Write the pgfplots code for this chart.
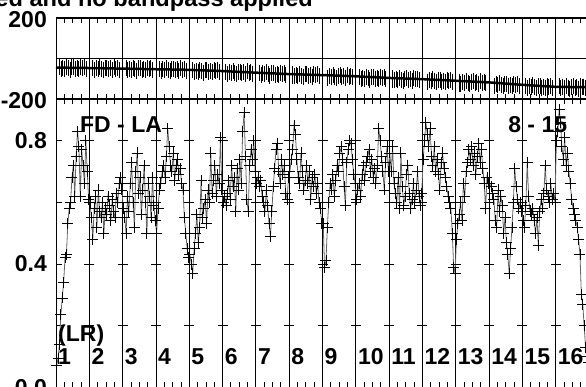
\documentclass[border=0pt]{standalone}
\usepackage{pgfplots}
\pgfplotsset{compat=1.18}
\usepackage{pgfplotstable}
\usepackage{fontspec}
\setmainfont{Liberation Sans}

\pgfplotstableread[row sep=\\]{
y\\
-43\\-53\\-45\\-50\\-40\\-49\\-55\\-44\\-42\\-51\\-46\\-54\\-41\\-48\\-44\\-52\\
-46\\-56\\-48\\-53\\-43\\-52\\-58\\-47\\-45\\-54\\-49\\-57\\-44\\-51\\-47\\-55\\
-48\\-58\\-50\\-55\\-45\\-54\\-60\\-49\\-47\\-56\\-51\\-59\\-46\\-53\\-49\\-57\\
-51\\-61\\-53\\-58\\-48\\-57\\-63\\-52\\-50\\-59\\-54\\-62\\-49\\-56\\-52\\-60\\
-58\\-68\\-60\\-65\\-55\\-64\\-70\\-59\\-57\\-66\\-61\\-69\\-56\\-63\\-59\\-67\\
-66\\-76\\-68\\-73\\-63\\-72\\-78\\-67\\-65\\-74\\-69\\-77\\-64\\-71\\-67\\-75\\
-72\\-82\\-74\\-79\\-69\\-78\\-84\\-73\\-71\\-80\\-75\\-83\\-70\\-77\\-73\\-81\\
-78\\-88\\-80\\-85\\-75\\-84\\-90\\-79\\-77\\-86\\-81\\-89\\-76\\-83\\-79\\-87\\
-84\\-94\\-86\\-91\\-81\\-90\\-96\\-85\\-83\\-92\\-87\\-95\\-82\\-89\\-85\\-93\\
-92\\-102\\-94\\-99\\-89\\-98\\-104\\-93\\-91\\-100\\-95\\-103\\-90\\-97\\-93\\-101\\
-98\\-108\\-100\\-105\\-95\\-104\\-110\\-99\\-97\\-106\\-101\\-109\\-96\\-103\\-99\\-107\\
-106\\-116\\-108\\-113\\-103\\-112\\-118\\-107\\-105\\-114\\-109\\-117\\-104\\-111\\-107\\-115\\
-114\\-124\\-116\\-121\\-111\\-120\\-126\\-115\\-113\\-122\\-117\\-125\\-112\\-119\\-115\\-123\\
-126\\-136\\-128\\-133\\-123\\-132\\-138\\-127\\-125\\-134\\-129\\-137\\-124\\-131\\-127\\-135\\
-136\\-146\\-138\\-143\\-133\\-142\\-148\\-137\\-135\\-144\\-139\\-147\\-134\\-141\\-137\\-145\\
-138\\-148\\-140\\-145\\-135\\-144\\-150\\-139\\-137\\-146\\-141\\-149\\-136\\-143\\-139\\-147\\
}\topdata

\pgfplotstableread[row sep=\\]{
y\\
0.07\\0.095\\0.14\\0.235\\0.29\\0.34\\0.42\\0.43\\0.53\\0.58\\0.60\\0.68\\0.72\\0.62\\0.75\\0.83\\0.78\\0.62\\0.77\\0.72\\0.66\\0.80\\0.70\\0.61\\
0.60\\0.55\\0.48\\0.58\\0.62\\0.52\\0.64\\0.57\\0.55\\0.60\\0.50\\0.58\\0.56\\0.62\\0.59\\0.54\\0.61\\0.57\\0.55\\0.63\\0.60\\0.66\\0.68\\0.64\\
0.58\\0.55\\0.50\\0.62\\0.57\\0.66\\0.73\\0.60\\0.52\\0.70\\0.76\\0.63\\0.68\\0.56\\0.64\\0.72\\0.60\\0.50\\0.66\\0.62\\0.55\\0.68\\0.59\\0.54\\
0.50\\0.58\\0.64\\0.66\\0.70\\0.72\\0.68\\0.75\\0.84\\0.78\\0.72\\0.70\\0.76\\0.67\\0.72\\0.74\\0.69\\0.71\\0.66\\0.64\\0.55\\0.50\\0.45\\0.42\\
0.43\\0.40\\0.37\\0.45\\0.50\\0.56\\0.47\\0.52\\0.67\\0.55\\0.58\\0.61\\0.53\\0.64\\0.60\\0.76\\0.63\\0.67\\0.72\\0.62\\0.69\\0.66\\0.81\\0.64\\
0.60\\0.62\\0.59\\0.63\\0.67\\0.61\\0.72\\0.65\\0.68\\0.57\\0.71\\0.64\\0.74\\0.66\\0.83\\0.89\\0.75\\0.61\\0.57\\0.72\\0.77\\0.74\\0.80\\0.70\\
0.66\\0.68\\0.65\\0.67\\0.62\\0.60\\0.57\\0.64\\0.59\\0.53\\0.49\\0.57\\0.65\\0.71\\0.77\\0.79\\0.70\\0.66\\0.74\\0.69\\0.72\\0.63\\0.61\\0.68\\
0.70\\0.74\\0.77\\0.85\\0.82\\0.74\\0.68\\0.66\\0.76\\0.70\\0.64\\0.67\\0.72\\0.66\\0.70\\0.61\\0.68\\0.65\\0.69\\0.63\\0.66\\0.60\\0.58\\0.53\\
0.53\\0.39\\0.41\\0.52\\0.60\\0.66\\0.64\\0.69\\0.62\\0.67\\0.72\\0.70\\0.76\\0.78\\0.74\\0.65\\0.59\\0.73\\0.77\\0.80\\0.79\\0.74\\0.69\\0.66\\
0.61\\0.64\\0.66\\0.62\\0.69\\0.72\\0.67\\0.73\\0.75\\0.77\\0.70\\0.74\\0.68\\0.71\\0.66\\0.72\\0.84\\0.80\\0.75\\0.70\\0.64\\0.73\\0.78\\0.70\\
0.76\\0.70\\0.78\\0.66\\0.63\\0.60\\0.68\\0.58\\0.76\\0.65\\0.59\\0.62\\0.69\\0.72\\0.63\\0.58\\0.61\\0.66\\0.60\\0.64\\0.70\\0.62\\0.59\\0.63\\
0.74\\0.80\\0.86\\0.82\\0.78\\0.84\\0.75\\0.72\\0.78\\0.70\\0.74\\0.69\\0.64\\0.73\\0.76\\0.71\\0.68\\0.65\\0.62\\0.60\\0.58\\0.50\\0.39\\0.37\\
0.48\\0.53\\0.56\\0.60\\0.54\\0.66\\0.62\\0.70\\0.73\\0.77\\0.74\\0.78\\0.72\\0.76\\0.69\\0.75\\0.79\\0.73\\0.77\\0.71\\0.66\\0.58\\0.68\\0.66\\
0.66\\0.65\\0.63\\0.61\\0.54\\0.52\\0.64\\0.57\\0.62\\0.59\\0.50\\0.55\\0.47\\0.43\\0.37\\0.45\\0.52\\0.60\\0.71\\0.65\\0.61\\0.58\\0.60\\0.57\\
0.54\\0.52\\0.59\\0.73\\0.62\\0.57\\0.56\\0.58\\0.54\\0.50\\0.55\\0.46\\0.57\\0.61\\0.58\\0.63\\0.72\\0.64\\0.62\\0.60\\0.66\\0.61\\0.63\\0.60\\
0.80\\0.83\\0.90\\0.86\\0.78\\0.74\\0.81\\0.72\\0.76\\0.70\\0.66\\0.61\\0.58\\0.56\\0.54\\0.52\\0.48\\0.43\\0.30\\0.27\\0.20\\0.13\\0.10\\0.08\\
}\botdata

\begin{document}
\begin{tikzpicture}[font=\fontsize{23bp}{26bp}\selectfont\bfseries]
\pgfplotsset{
  panel/.style={
    scale only axis, width=533bp,
    xmin=0, xmax=16, xtick={0,...,16}, xticklabels={},
    minor x tick num=3, xtick pos=both, ytick pos=left,
    tick align=inside, major tick length=6bp, minor tick length=5bp,
    xmajorgrids, major grid style={black, line width=0.8bp},
    tick style={black, line width=0.8bp},
    axis line style={black, line width=1bp},
    yticklabel style={anchor=east, inner sep=0pt, xshift=-9bp},
    clip=false,
  }
}
\begin{axis}[panel, at={(56bp,288bp)}, anchor=south west, height=81bp,
  ymin=-200, ymax=200, ytick={-200,0,200}, yticklabels={-200,,200},
  ymajorgrids, yticklabel style={yshift=-1.5bp}]
\addplot[only marks, mark=|, mark size=8bp, mark options={black, line width=0.8bp}]
  table[x expr={floor(\coordindex/16)+0.1+0.8*mod(\coordindex,16)/15}, y=y] {\topdata};
\addplot[black, line width=2.5bp] coordinates {
(0,-45) (1,-47) (2,-50) (3,-53) (4,-56) (5,-62) (6,-70) (7,-77) (8,-82)
(9,-88) (10,-96) (11,-102) (12,-110) (13,-118) (14,-130) (15,-140) (16,-142)};
\end{axis}

\begin{axis}[panel, at={(56bp,-0.4bp)}, anchor=south west, height=288.4bp,
  ymin=0, ymax=0.935, ytick={0,0.2,0.4,0.6,0.8}, yticklabels={0.0,,0.4,,0.8}]
\addplot[only marks, mark=-, mark size=5bp, mark options={black, line width=0.8bp}] coordinates {
(1,0.2)(1,0.4)(1,0.6)(1,0.8) (2,0.2)(2,0.4)(2,0.6)(2,0.8)
(3,0.2)(3,0.4)(3,0.6)(3,0.8) (4,0.2)(4,0.4)(4,0.6)(4,0.8)
(5,0.2)(5,0.4)(5,0.6)(5,0.8) (6,0.2)(6,0.4)(6,0.6)(6,0.8)
(7,0.2)(7,0.4)(7,0.6)(7,0.8) (8,0.2)(8,0.4)(8,0.6)(8,0.8)
(9,0.2)(9,0.4)(9,0.6)(9,0.8) (10,0.2)(10,0.4)(10,0.6)(10,0.8)
(11,0.2)(11,0.4)(11,0.6)(11,0.8) (12,0.2)(12,0.4)(12,0.6)(12,0.8)
(13,0.2)(13,0.4)(13,0.6)(13,0.8) (14,0.2)(14,0.4)(14,0.6)(14,0.8)
(15,0.2)(15,0.4)(15,0.6)(15,0.8)};
\addplot[black!60, line width=0.8bp, mark=+, mark size=5.5bp, mark options={black, line width=0.9bp}]
  table[x expr={\coordindex/24+1/48}, y=y] {\botdata};
\node[anchor=base west, inner sep=0pt] at (axis cs:0.72,0.827) {FD - LA};
\node[anchor=base east, inner sep=0pt] at (axis cs:15.35,0.827) {8 - 15};
\node[anchor=base west, inner sep=0pt, xshift=2bp] at (axis cs:0,0.150) {(LR)};
\node[anchor=base west, inner sep=0pt, xshift=2bp] at (axis cs:0,0.073) {1};
\node[anchor=base west, inner sep=0pt, xshift=2bp] at (axis cs:1,0.073) {2};
\node[anchor=base west, inner sep=0pt, xshift=2bp] at (axis cs:2,0.073) {3};
\node[anchor=base west, inner sep=0pt, xshift=2bp] at (axis cs:3,0.073) {4};
\node[anchor=base west, inner sep=0pt, xshift=2bp] at (axis cs:4,0.073) {5};
\node[anchor=base west, inner sep=0pt, xshift=2bp] at (axis cs:5,0.073) {6};
\node[anchor=base west, inner sep=0pt, xshift=2bp] at (axis cs:6,0.073) {7};
\node[anchor=base west, inner sep=0pt, xshift=2bp] at (axis cs:7,0.073) {8};
\node[anchor=base west, inner sep=0pt, xshift=2bp] at (axis cs:8,0.073) {9};
\node[anchor=base west, inner sep=0pt, xshift=2bp] at (axis cs:9,0.073) {10};
\node[anchor=base west, inner sep=0pt, xshift=2bp] at (axis cs:10,0.073) {11};
\node[anchor=base west, inner sep=0pt, xshift=2bp] at (axis cs:11,0.073) {12};
\node[anchor=base west, inner sep=0pt, xshift=2bp] at (axis cs:12,0.073) {13};
\node[anchor=base west, inner sep=0pt, xshift=2bp] at (axis cs:13,0.073) {14};
\node[anchor=base west, inner sep=0pt, xshift=2bp] at (axis cs:14,0.073) {15};
\node[anchor=base west, inner sep=0pt, xshift=2bp] at (axis cs:15,0.073) {16};
\end{axis}

\node[anchor=base east, inner sep=0pt, font=\fontsize{23.6bp}{26bp}\selectfont\bfseries]
  at (313bp,380bp) {Data not calibrated and no bandpass applied};

\pgfresetboundingbox
\useasboundingbox (0,0) rectangle (586bp,387bp);
\end{tikzpicture}
\end{document}
